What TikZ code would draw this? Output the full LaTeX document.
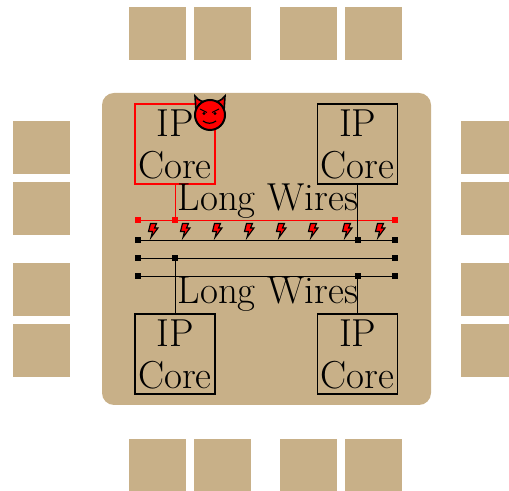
\documentclass[tikz,border=0pt]{standalone}
\definecolor{tan}{HTML}{C8B088}
\tikzset{
 x=0.5pt,y=-0.5pt,
 ipcore/.style={draw=black,line width=0.62pt,minimum width=40pt,minimum height=40pt,inner sep=0pt,align=center,font=\fontsize{19.5}{21}\selectfont},
 wirelabel/.style={inner sep=0pt,font=\fontsize{19.5}{21}\selectfont},
 term/.style={fill=black,draw=none,minimum size=3pt,inner sep=0pt,rectangle},
 redterm/.style={term,fill=red},
 wire/.style={draw=black,line width=0.45pt},
 redwire/.style={draw=red,line width=0.4pt},
}
\newcommand{\bolt}[1]{\begin{scope}[shift={(#1,230)}]
 \draw[fill=red,draw=black,line width=0.55pt,line join=miter] (-2.5,-6.5)--(3.5,-6.5)--(1.5,-2)--(5,-2)--(-2,7.5)--(-0.5,1.5)--(-4.5,1.5)--cycle;
\end{scope}}
\begin{document}
\begin{tikzpicture}
\useasboundingbox (0,0) rectangle (509,491);
\foreach \a in {129,194,280,345}{
 \fill[tan] (\a,7) rectangle ++(57,53);
 \fill[tan] (\a,439) rectangle ++(57,52);
}
\foreach \b in {121,182,263,324}{
 \fill[tan] (13,\b) rectangle ++(57,53);
 \fill[tan] (461,\b) rectangle ++(48,53);
}
\fill[tan,rounded corners=6pt] (102,93) rectangle (431,405);
% IP cores
\node[ipcore,draw=red,text=black] (c1) at (175,144) {IP\\Core};
\node[ipcore] (c2) at (357.7,144) {IP\\Core};
\node[ipcore] (c3) at (175,354) {IP\\Core};
\node[ipcore] (c4) at (357.7,354) {IP\\Core};
% terminals
\node[redterm] (a1) at (138,220) {};
\node[redterm] (a2) at (175,220) {};
\node[redterm] (a3) at (395,220) {};
\node[term] (b1) at (138,240) {};
\node[term] (b2) at (357.7,240) {};
\node[term] (b3) at (395,240) {};
\node[term] (d1) at (138,258) {};
\node[term] (d2) at (175,258) {};
\node[term] (d3) at (395,258) {};
\node[term] (e1) at (138,276) {};
\node[term] (e2) at (357.7,276) {};
\node[term] (e3) at (395,276) {};
\draw[redwire] (a1) -- (a3);
\draw[wire] (b1) -- (b3);
\draw[wire] (d1) -- (d3);
\draw[wire] (e1) -- (e3);
\draw[redwire] (c1) -- (a2);
\draw[wire] (c2) -- (b2);
\draw[wire] (c3) -- (d2);
\draw[wire] (c4) -- (e2);
\node[wirelabel] (l1) at (268,201) {Long Wires};
\node[wirelabel] (l2) at (268,294) {Long Wires};
\foreach \q in {153,185,217,249,281,313,347,380}{\bolt{\q}}
% devil
\begin{scope}[shift={(210,115)}]
 \draw[fill=red,draw=black,line width=0.8pt,line join=miter] (-14,-4) -- (-15,-19) .. controls (-11,-14) and (-8,-13) .. (-1,-13) -- cycle;
 \draw[fill=red,draw=black,line width=0.8pt,line join=miter] (14,-4) -- (15,-19) .. controls (11,-14) and (8,-13) .. (1,-13) -- cycle;
 \draw[fill=red,draw=black,line width=1pt] (0,0) circle (15);
 \fill[black] (-6,-1.5) circle (1.6);
 \fill[black] (5,-1.5) circle (1.6);
 \draw[black,line width=0.5pt] (-10,-6)--(-3,-2.5);
 \draw[black,line width=0.5pt] (9,-6)--(2,-2.5);
 \draw[black,line width=0.6pt] (-7,6) .. controls (-3,9) and (2,9) .. (6,6);
\end{scope}
\end{tikzpicture}
\end{document}
